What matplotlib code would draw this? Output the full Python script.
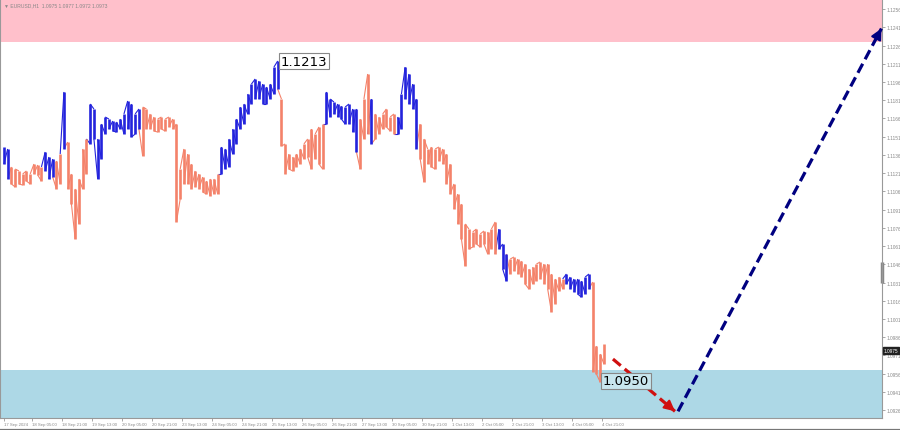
import matplotlib
matplotlib.use("Agg")
import matplotlib.pyplot as plt
from matplotlib.collections import LineCollection
from matplotlib.transforms import blended_transform_factory

# ---------------- data (EURUSD H1, drawn as 2-hour bars) ----------------
# hour index 0 = 17 Sep 2024 14:00 (trading hours only)
bar_hour = list(range(0, 322, 2))

bar_high = [
    1.11425, 1.11409, 1.11261, 1.11244, 1.11228, 1.11203, 1.11228, 1.11203, 1.11285, 1.11277,
    1.11261, 1.11384, 1.11343, 1.11326, 1.11310, 1.11367, 1.11878, 1.11466, 1.11203, 1.11080,
    1.11162, 1.11409, 1.11491, 1.11779, 1.11738, 1.11491, 1.11614, 1.11672, 1.11655, 1.11639,
    1.11631, 1.11655, 1.11697, 1.11804, 1.11779, 1.11697, 1.11738, 1.11754, 1.11738, 1.11697,
    1.11672, 1.11655, 1.11672, 1.11655, 1.11672, 1.11655, 1.11614, 1.11244, 1.11409, 1.11367,
    1.11285, 1.11228, 1.11203, 1.11178, 1.11145, 1.11162, 1.11162, 1.11203, 1.11425, 1.11409,
    1.11491, 1.11573, 1.11655, 1.11754, 1.11779, 1.11861, 1.11943, 1.11985, 1.11968, 1.11943,
    1.11919, 1.11943, 1.12083, 1.12133, 1.11820, 1.11450, 1.11367, 1.11343, 1.11367, 1.11409,
    1.11450, 1.11491, 1.11573, 1.11532, 1.11590, 1.11614, 1.11878, 1.11820, 1.11795, 1.11779,
    1.11762, 1.11754, 1.11779, 1.11738, 1.11738, 1.11655, 1.11820, 1.12026, 1.11820, 1.11697,
    1.11672, 1.11697, 1.11738, 1.11672, 1.11697, 1.11672, 1.11861, 1.12083, 1.12026, 1.11943,
    1.11820, 1.11614, 1.11491, 1.11409, 1.11425, 1.11409, 1.11425, 1.11409, 1.11367, 1.11285,
    1.11121, 1.11038, 1.10956, 1.10792, 1.10750, 1.10726, 1.10750, 1.10709, 1.10734, 1.10726,
    1.10750, 1.10808, 1.10750, 1.10627, 1.10545, 1.10503, 1.10520, 1.10503, 1.10487, 1.10462,
    1.10421, 1.10437, 1.10462, 1.10479, 1.10462, 1.10462, 1.10380, 1.10339, 1.10355, 1.10339,
    1.10380, 1.10355, 1.10339, 1.10339, 1.10322, 1.10355, 1.10380, 1.10314, 1.09787, 1.09721,
    1.09804,
]

bar_low = [
    1.11285, 1.11162, 1.11121, 1.11096, 1.11121, 1.11112, 1.11145, 1.11121, 1.11203, 1.11195,
    1.11145, 1.11228, 1.11162, 1.11178, 1.11080, 1.11121, 1.11409, 1.11080, 1.10956, 1.10668,
    1.10792, 1.11080, 1.11203, 1.11450, 1.11491, 1.11162, 1.11326, 1.11532, 1.11573, 1.11557,
    1.11548, 1.11573, 1.11532, 1.11573, 1.11507, 1.11532, 1.11573, 1.11351, 1.11573, 1.11573,
    1.11557, 1.11548, 1.11573, 1.11557, 1.11590, 1.11573, 1.10808, 1.10997, 1.11121, 1.11121,
    1.11080, 1.11096, 1.11080, 1.11055, 1.11038, 1.11022, 1.11038, 1.11038, 1.11203, 1.11244,
    1.11261, 1.11367, 1.11450, 1.11573, 1.11614, 1.11697, 1.11779, 1.11820, 1.11820, 1.11779,
    1.11779, 1.11820, 1.11861, 1.11902, 1.11433, 1.11203, 1.11244, 1.11228, 1.11261, 1.11285,
    1.11326, 1.11343, 1.11244, 1.11326, 1.11285, 1.11244, 1.11614, 1.11672, 1.11697, 1.11672,
    1.11655, 1.11614, 1.11614, 1.11548, 1.11384, 1.11244, 1.11491, 1.11532, 1.11450, 1.11491,
    1.11532, 1.11573, 1.11590, 1.11557, 1.11532, 1.11532, 1.11573, 1.11820, 1.11779, 1.11738,
    1.11409, 1.11326, 1.11137, 1.11285, 1.11261, 1.11244, 1.11310, 1.11285, 1.11121, 1.11038,
    1.10915, 1.10792, 1.10668, 1.10446, 1.10586, 1.10602, 1.10627, 1.10602, 1.10627, 1.10545,
    1.10586, 1.10545, 1.10586, 1.10421, 1.10322, 1.10380, 1.10405, 1.10380, 1.10355, 1.10298,
    1.10256, 1.10298, 1.10322, 1.10339, 1.10298, 1.10256, 1.10067, 1.10133, 1.10240, 1.10256,
    1.10298, 1.10256, 1.10232, 1.10215, 1.10190, 1.10215, 1.10256, 1.09573, 1.09557, 1.09491,
    1.09639,
]

# bar index ranges of the upward wave sections (drawn blue)
up_wave_ranges = [(0, 1), (11, 13), (16, 16), (23, 36), (58, 73), (86, 94),
                  (98, 98), (105, 110), (132, 134), (150, 156)]

time_ticks = [0, 15, 31, 47, 63, 79, 95, 111, 127, 143, 159, 175, 191, 207, 223,
              239, 255, 271, 287, 303, 319]
time_labels = ["17 Sep 2024", "18 Sep 05:00", "18 Sep 21:00", "19 Sep 13:00",
               "20 Sep 05:00", "20 Sep 21:00", "23 Sep 13:00", "24 Sep 05:00",
               "24 Sep 21:00", "25 Sep 13:00", "26 Sep 05:00", "26 Sep 21:00",
               "27 Sep 13:00", "30 Sep 05:00", "30 Sep 21:00", "1 Oct 13:00",
               "2 Oct 05:00", "2 Oct 21:00", "3 Oct 13:00", "4 Oct 05:00",
               "4 Oct 21:00"]

price_ticks = [round(1.0926 + 0.0015 * i, 4) for i in range(23)]

sell_zone = (1.12289, 1.1300)
buy_zone = (1.0900, 1.0959)

high_mark = (146, 1.1213, "1.1213")
low_mark = (318, 1.0950, "1.0950")

forecast_down_t = [324.8, 357.9]
forecast_down_p = [1.0968, 1.0925]
forecast_up_t = [359.5, 468.0]
forecast_up_p = [1.0925, 1.1240]

last_price = 1.0975
header = "EURUSD,H1  1.0975 1.0977 1.0972 1.0973"

# ---------------- drawing ----------------
SMALL = ["Liberation Sans Narrow", "Liberation Sans", "DejaVu Sans"]
W, H = 900, 431
fig = plt.figure(figsize=(W / 100, H / 100), dpi=100)
fig.patch.set_facecolor("white")
ax = fig.add_axes([0, 1 - 419 / H, 882 / W, 419 / H])
ax.set_xlim(-2.1, 468.3)
ax.set_ylim(1.09195, 1.12643)

ax.axhspan(*sell_zone, color="#FFC0CB", zorder=0, lw=0)
ax.axhspan(*buy_zone, color="#ADD8E6", zorder=0, lw=0)

BLUE = "#2323DC"
SALMON = "#F4826A"
colors = [SALMON] * len(bar_hour)
for a, b in up_wave_ranges:
    for k in range(a, b + 1):
        colors[k] = BLUE

# thin joins between neighbouring bars, then the high-low bars themselves
n = len(bar_hour)
pts = []
pcol = []
for k in range(n):
    mid = (bar_high[k] + bar_low[k]) / 2
    nxt = (bar_high[k + 1] + bar_low[k + 1]) / 2 if k + 1 < n else mid
    if nxt >= mid:
        a, b = bar_low[k], bar_high[k]
    else:
        a, b = bar_high[k], bar_low[k]
    pts.append((bar_hour[k], a))
    pcol.append(colors[k])
    pts.append((bar_hour[k], b))
    pcol.append(colors[k])
segs = []
scol = []
for i in range(1, len(pts) - 1, 2):
    segs.append([pts[i], pts[i + 1]])
    scol.append(pcol[i + 1])
ax.add_collection(LineCollection(segs, colors=scol, linewidths=0.8, zorder=3,
                                 capstyle="butt"))
ax.vlines(bar_hour, bar_low, bar_high, colors=colors, linewidth=1.9, zorder=3)

# labels for extremes
ax.text(high_mark[0] + 1.5, high_mark[1], high_mark[2], fontsize=9.5, ha="left",
        va="center", color="black", zorder=5,
        bbox=dict(boxstyle="square,pad=0.12", fc="white", ec="#888888", lw=0.8))
ax.text(low_mark[0] + 1.5, low_mark[1], low_mark[2], fontsize=9.5, ha="left",
        va="center", color="black", zorder=5,
        bbox=dict(boxstyle="square,pad=0.12", fc="#C8E6EE", ec="#888888", lw=0.8))

# forecast arrows
def dashed_arrow(ts, ps, color):
    ax.plot(ts, ps, linestyle=(0, (3.2, 1.6)), color=color, lw=2.3, zorder=4,
            clip_on=False, dash_capstyle="butt")
    dt = ts[1] - ts[0]
    dp = ps[1] - ps[0]
    f = 0.04
    ax.annotate("", xy=(ts[1], ps[1]), xytext=(ts[1] - dt * f, ps[1] - dp * f),
                arrowprops=dict(arrowstyle="-|>", color=color, lw=1.5,
                                mutation_scale=16, shrinkA=0, shrinkB=0),
                annotation_clip=False, zorder=4)

dashed_arrow(forecast_down_t, forecast_down_p, "#D01010")
dashed_arrow(forecast_up_t, forecast_up_p, "#000080")

# axes styling
ax.spines["top"].set_visible(False)
for s in ["left", "bottom", "right"]:
    ax.spines[s].set_color("#999999")
    ax.spines[s].set_linewidth(0.8)

ax.yaxis.tick_right()
ax.set_yticks(price_ticks)
ax.set_yticklabels([f"{p:.4f}" for p in price_ticks], family=SMALL)
ax.tick_params(axis="y", direction="out", length=2, width=0.6, colors="#999999",
               labelsize=3.4, labelcolor="#888888", pad=1)
ax.set_xticks(time_ticks)
ax.set_xticklabels(time_labels, family=SMALL)
ax.tick_params(axis="x", direction="out", length=2, width=0.6, colors="#999999",
               labelsize=3.1, labelcolor="#888888", pad=1)
for lbl in ax.get_xticklabels():
    lbl.set_ha("left")

# current price marker on the scale
tr = blended_transform_factory(ax.transAxes, ax.transData)
ax.text(1.002, last_price, f"{last_price:.4f}", transform=tr, fontsize=3.4,
        family=SMALL, color="white", ha="left", va="center", zorder=6,
        bbox=dict(boxstyle="square,pad=0.2", fc="#222222", ec="#222222"))
ax.plot([1.0, 1.0], [1.1031, 1.1048], transform=tr, color="#888888", lw=2.5,
        clip_on=False, solid_capstyle="butt")

# header
fig.text(0.004, 1 - 6 / H, "\u25BC " + header, fontsize=3.6, color="#888888",
         family=SMALL, ha="left", va="center")

# bottom border bar
fig.add_artist(plt.Line2D([0, 1], [0.5 / H, 0.5 / H], color="#777777", lw=1.6))

fig.savefig("out.png", dpi=100)
